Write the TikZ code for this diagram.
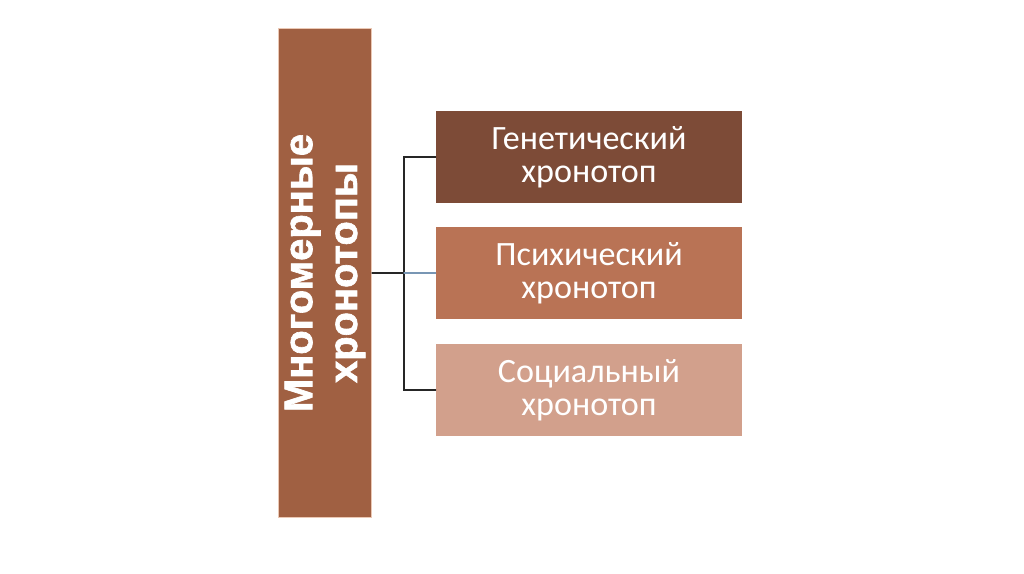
\documentclass[tikz,border=0pt]{standalone}
\usepackage{fontspec}
\setmainfont{Carlito}
\newfontfamily\heavysans{Liberation Sans}[BoldFeatures={FakeBold=1.6}]
\usepackage{xcolor}
\definecolor{mainbrown}{RGB}{160,96,66}
\definecolor{genbrown}{RGB}{125,75,55}
\definecolor{psybrown}{RGB}{185,115,85}
\definecolor{socbrown}{RGB}{210,160,140}
\definecolor{edgepeach}{RGB}{235,200,180}
\definecolor{forkblue}{RGB}{120,150,180}

\begin{document}
\begin{tikzpicture}[x=0.02cm,y=-0.02cm,line cap=round,
  kindbox/.style={minimum width=6.12cm,minimum height=1.86cm,inner sep=0pt,
    text=white,align=center,font=\fontsize{19.4}{18.6}\selectfont},
  link/.style={black!85,line width=0.7pt}]
\useasboundingbox (0,0) rectangle (1024,574);
\node[fill=mainbrown,draw=edgepeach,line width=0.6pt,minimum width=1.86cm,minimum height=9.8cm,inner sep=0pt] (multi) at (325,273) {};
\node[rotate=90,text=white,align=center,font=\heavysans\bfseries\fontsize{22.7}{25.5}\selectfont] (multilabel) at (multi.center) {Многомерные\\хронотопы};
\node[kindbox,fill=genbrown] (gen) at (589,157) {Генетический\\хронотоп};
\node[kindbox,fill=psybrown] (psy) at (589,273) {Психический\\хронотоп};
\node[kindbox,fill=socbrown] (soc) at (589,390) {Социальный\\хронотоп};
\coordinate (fork) at (404,273);
\draw[link] (multi.east) -- (fork);
\draw[link] (fork) |- (gen.west);
\draw[link] (fork) |- (soc.west);
\draw[forkblue,line width=0.7pt] (fork) -- (psy.west);
\end{tikzpicture}
\end{document}
